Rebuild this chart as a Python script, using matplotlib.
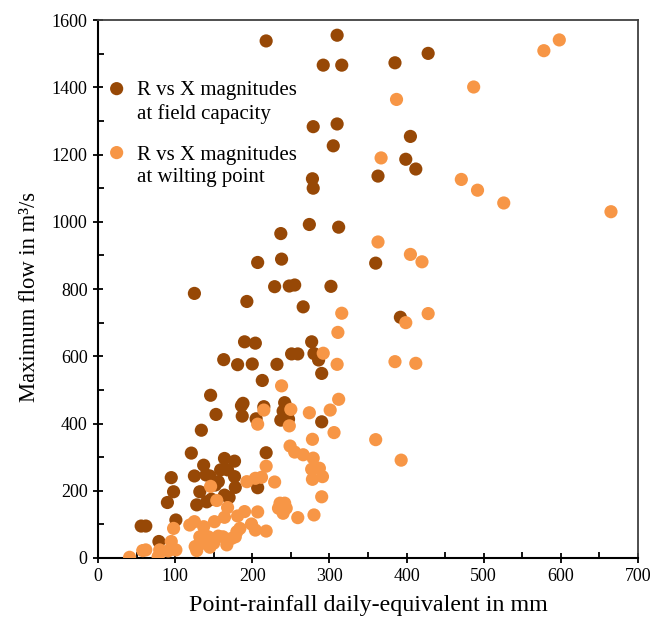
import matplotlib
matplotlib.use("Agg")
import matplotlib.pyplot as plt
from matplotlib.ticker import MultipleLocator

# Field capacity series (x: point-rainfall daily-equivalent mm, y: max flow m3/s)
fc_x = [218, 310, 428, 292, 316, 385, 279, 310, 405, 305, 399, 412, 363, 278, 279,
        312, 274, 237, 207, 238, 360, 229, 248, 255, 302, 125, 193, 266, 392, 190,
        204, 277, 163, 181, 200, 232, 251, 259, 280, 286, 290, 213, 146, 153, 134,
        121, 137, 164, 188, 186, 187, 215, 205, 242, 244, 240, 237, 247, 290, 218,
        207, 177, 159, 168, 125, 140, 145, 177, 156, 152, 178, 132, 164, 170, 141,
        147, 128, 95, 98, 90, 101, 56, 62, 79]
fc_y = [1538, 1555, 1501, 1466, 1466, 1473, 1283, 1291, 1254, 1226, 1186, 1157, 1136, 1128, 1100,
        984, 992, 965, 879, 889, 877, 807, 809, 812, 808, 787, 763, 747, 716, 643,
        639, 643, 590, 575, 577, 576, 607, 607, 608, 589, 549, 528, 484, 427, 380,
        312, 276, 296, 460, 453, 422, 450, 414, 462, 450, 437, 410, 413, 405, 313,
        209, 288, 262, 262, 244, 247, 244, 242, 227, 217, 210, 197, 187, 180, 167,
        175, 158, 239, 197, 165, 113, 95, 95, 49]

# Wilting point series
wp_x = [598, 578, 487, 387, 367, 471, 492, 526, 665, 363, 405, 420, 316, 399, 428,
        311, 292, 310, 385, 412, 312, 301, 306, 360, 393, 238, 215, 207, 250, 248,
        274, 278, 249, 255, 266, 279, 277, 287, 278, 291, 290, 218, 212, 229, 204,
        193, 146, 154, 168, 236, 242, 234, 244, 240, 259, 280, 207, 190, 181, 164,
        151, 125, 119, 137, 184, 180, 199, 204, 218, 132, 143, 156, 162, 173, 178,
        137, 150, 167, 126, 128, 145, 98, 95, 80, 91, 101, 58, 62, 41, 78]
wp_y = [1541, 1509, 1401, 1364, 1190, 1126, 1094, 1056, 1030, 940, 903, 881, 728, 700, 727,
        671, 609, 576, 584, 579, 472, 440, 373, 352, 291, 512, 440, 398, 442, 393,
        432, 353, 333, 315, 307, 297, 264, 267, 234, 242, 182, 273, 240, 226, 237,
        227, 213, 171, 150, 163, 163, 148, 148, 133, 120, 128, 137, 138, 125, 121,
        108, 108, 98, 93, 88, 78, 101, 83, 80, 63, 63, 65, 63, 58, 63,
        44, 44, 39, 34, 22, 32, 88, 49, 24, 21, 24, 22, 24, 2, 4]

labels = ["R vs X magnitudes\nat field capacity", "R vs X magnitudes\nat wilting point"]
colors = ["#974806", "#F79646"]

plt.rcParams['font.family'] = ['Liberation Serif', 'DejaVu Serif']

fig = plt.figure(figsize=(6.51, 6.28), dpi=100)
ax = fig.add_axes([0.1505, 0.1115, 0.8295, 0.8565])

ax.scatter(fc_x, fc_y, s=90, color=colors[0], edgecolors='none', label=labels[0], zorder=3)
ax.scatter(wp_x, wp_y, s=90, color=colors[1], edgecolors='none', label=labels[1], zorder=4)

ax.set_xlim(0, 700)
ax.set_ylim(0, 1600)
ax.xaxis.set_major_locator(MultipleLocator(100))
ax.xaxis.set_minor_locator(MultipleLocator(50))
ax.yaxis.set_major_locator(MultipleLocator(200))
ax.yaxis.set_minor_locator(MultipleLocator(100))
ax.tick_params(which='major', direction='inout', length=7, width=1.3, labelsize=13,
               colors='black', pad=4)
ax.tick_params(which='minor', direction='in', length=4, width=1.3)
ax.tick_params(top=False, right=False, which='both')

for side in ['left', 'bottom']:
    ax.spines[side].set_linewidth(1.5)
    ax.spines[side].set_color('black')
for side in ['top', 'right']:
    ax.spines[side].set_linewidth(1.3)
    ax.spines[side].set_color('#404040')

ax.set_xlabel("Point-rainfall daily-equivalent in mm", fontsize=17.3, labelpad=7)
ax.set_ylabel("Maximum flow in m³/s", fontsize=16.3, labelpad=7)
ax.yaxis.set_label_coords(-0.108, 0.485)

leg = ax.legend(loc='upper left', bbox_to_anchor=(-0.031, 0.913), frameon=False, fontsize=15,
                handletextpad=0.0, labelspacing=1.05, borderaxespad=0.3, markerscale=1.0,
                scatteryoffsets=[1.45])
for t in leg.get_texts():
    t.set_linespacing(1.25)

fig.savefig("out.png", dpi=100)
